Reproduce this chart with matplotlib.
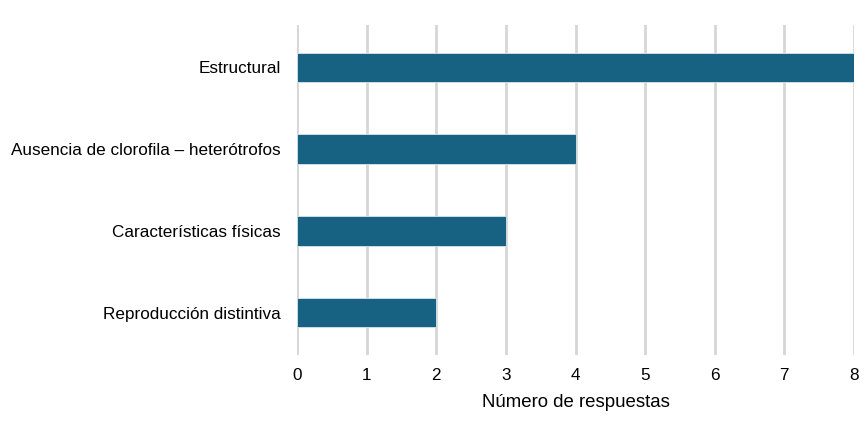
import matplotlib
matplotlib.use("Agg")
import matplotlib.pyplot as plt

categories = ["Estructural", "Ausencia de clorofila – heterótrofos", "Características físicas", "Reproducción distintiva"]
values = [8, 4, 3, 2]
xticks = [0, 1, 2, 3, 4, 5, 6, 7, 8]

plt.rcParams['font.family'] = ['Liberation Sans', 'DejaVu Sans']
fig = plt.figure(figsize=(8.66, 4.30), dpi=100)
ax = fig.add_axes([297/866, 1-355/430, (854-297)/866, (355-25)/430])

ypos = list(range(len(categories)))
ax.barh(ypos, values, height=0.36, color="#176282", edgecolor="#d8e6ec", linewidth=0.6, zorder=3)
ax.set_yticks(ypos)
ax.set_yticklabels(categories, fontsize=12.3)
ax.set_ylim(3.52, -0.52)
ax.set_xlim(0, 8)
ax.set_xticks(xticks)
ax.set_xticklabels([str(t) for t in xticks], fontsize=12.3)
ax.grid(axis='x', color="#d6d6d6", linewidth=2, zorder=0)
ax.set_axisbelow(True)
for s in ax.spines.values():
    s.set_visible(False)
ax.tick_params(axis='y', length=0, pad=11.5)
ax.tick_params(axis='x', length=0, pad=9)
ax.set_xlabel("Número de respuestas", fontsize=13.4, labelpad=8)
fig.savefig("out.png", dpi=100)
